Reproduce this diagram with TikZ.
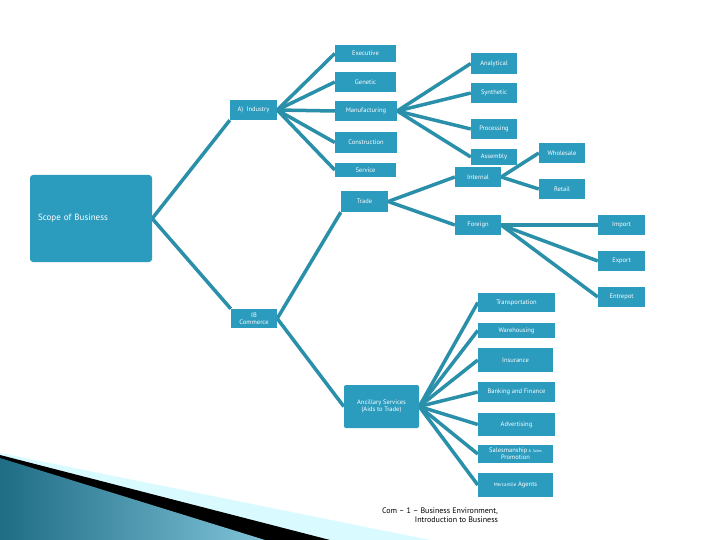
\documentclass[tikz,border=0pt]{standalone}
\usepackage{fontspec}
\setmainfont{PT Sans}
\pgfdeclarelayer{bg}\pgfdeclarelayer{lines}
\pgfsetlayers{bg,lines,main}
\definecolor{boxc}{RGB}{43,155,190}
\definecolor{linec}{RGB}{42,144,170}
\tikzset{
 box/.style={fill=boxc,text=white,font=\fontsize{6.5}{7}\selectfont,inner sep=1pt,align=center},
 conn/.style={draw=linec,line width=3.5pt},
}
\newcommand\bx[6]{\node[box,minimum width=#4pt,minimum height=#5pt] (#1) at (#2,#3) {#6};}
\begin{document}
\begin{tikzpicture}[x=1pt,y=-1pt]
\begin{pgfonlayer}{bg}
\fill[white] (0,0) rectangle (720,540);
\fill[blue!10!cyan!15] (0,453) -- (430,540) -- (0,540) -- cycle;
\fill[black] (0,455) -- (330,540) -- (0,540) -- cycle;
\shade[left color=boxc!70!black,right color=boxc!60!white] (0,458) -- (265,540) -- (0,540) -- cycle;
\end{pgfonlayer}
\useasboundingbox (0,0) rectangle (720,540);
\node[box,minimum width=122pt,minimum height=87pt,rounded corners=3pt,text width=106pt,inner xsep=8pt,align=left,font=\fontsize{9}{10}\selectfont] (scope) at (91,218.5) {Scope of Business};
\bx{ind}{253.5}{110}{47}{20}{A)~~Industry}
\bx{exe}{365.5}{53.5}{61}{17}{Executive}
\bx{gen}{365.5}{82}{61}{20}{Genetic}
\bx{man}{366}{111}{62}{20}{Manufacturing}
\bx{con}{366}{142.5}{62}{21}{Construction}
\bx{ser}{365.5}{170}{61}{14}{Service}
\bx{tra}{364.5}{201.5}{47}{21}{Trade}
\bx{ana}{494}{63.5}{46}{21}{Analytical}
\bx{syn}{494}{93}{46}{20}{Synthetic}
\bx{pro}{494}{129}{46}{20}{Processing}
\bx{ass}{494}{157}{46}{16}{Assembly}
\bx{int}{478}{177}{46}{20}{Internal}
\bx{who}{562}{153}{46}{20}{Wholesale}
\bx{ret}{562}{189}{46}{20}{Retail}
\bx{for}{478}{225}{46}{20}{Foreign}
\bx{imp}{621.5}{225}{47}{20}{Import}
\bx{exp}{621.5}{261}{47}{20}{Export}
\bx{ent}{621.5}{297}{47}{20}{Entrepot}
\bx{ib}{254}{318.5}{46}{19}{IB\\Commerce}
\bx{trn}{516.5}{302.5}{77}{19}{Transportation}
\bx{war}{516.5}{330.5}{77}{15}{Warehousing}
\bx{ins}{515.5}{360}{75}{24}{Insurance}
\bx{ban}{516.5}{392}{77}{20}{Banking and Finance}
\node[box,minimum width=75pt,minimum height=43pt,rounded corners=2pt] (anc) at (381.5,406.5) {Ancillary Services\\(Aids to Trade)};
\bx{adv}{516.5}{424.5}{77}{23}{Advertising}
\bx{sal}{515.5}{454}{75}{18}{Salesmanship{\fontsize{4}{4}\selectfont\ \& Sales}\\Promotion}
\bx{mer}{515.5}{485}{75}{24}{{\fontsize{5}{6}\selectfont Mercantile} Agents}
\node[font=\fontsize{8}{9.5}\selectfont,align=right,anchor=north] (foot) at (440,504) {Com -- 1 -- Business Environment,\\Introduction to Business};
\begin{pgfonlayer}{lines}
\draw[conn] (scope.east) -- (ind.south west);
\draw[conn] (scope.east) -- (ib.north west);
\foreach \c in {exe,gen,man,con,ser} \draw[conn] (ind.east) -- (\c.west);
\foreach \c in {ana,syn,pro,ass} \draw[conn] (man.east) -- (\c.west);
\draw[conn] (ib.east) -- (tra.south west);
\draw[conn] (ib.east) -- (anc.west);
\foreach \c in {int,for} \draw[conn] (tra.east) -- (\c.west);
\foreach \c in {who,ret} \draw[conn] (int.east) -- (\c.west);
\foreach \c in {imp,exp,ent} \draw[conn] (for.east) -- (\c.west);
\foreach \c in {trn,war,ins,ban,adv,sal,mer} \draw[conn] (anc.east) -- (\c.west);
\end{pgfonlayer}
\end{tikzpicture}
\end{document}
